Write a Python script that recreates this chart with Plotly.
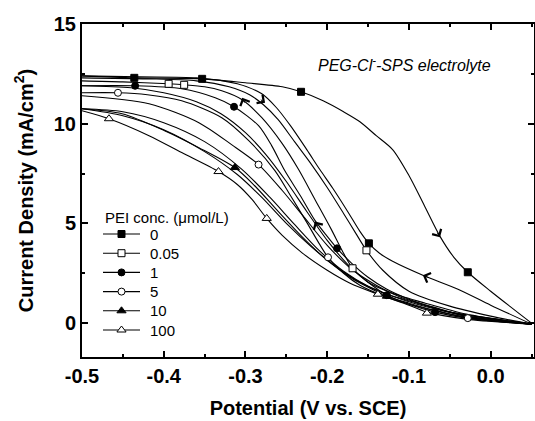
import math
import plotly.graph_objects as go

# ---------------- data ----------------
series_names = ["0", "0.05", "1", "5", "10", "100"]

# PEI 0 µmol/L
v_0_a = [-0.5, -0.436, -0.353, -0.3, -0.255, -0.232, -0.205, -0.18, -0.16, -0.14, -0.12, -0.1, -0.08, -0.062, -0.045, -0.028, 0.0, 0.05]
j_0_a = [12.4, 12.3, 12.25, 12.05, 11.85, 11.6, 11.15, 10.6, 10.1, 9.4, 8.7, 7.4, 5.8, 4.35, 3.3, 2.55, 1.6, 0.0]
v_0_b = [0.05, 0.0, -0.04, -0.083, -0.12, -0.136, -0.149, -0.16, -0.175, -0.193, -0.209, -0.225, -0.245, -0.262, -0.28, -0.31, -0.36, -0.43, -0.5]
j_0_b = [-0.05, 0.9, 1.7, 2.4, 3.1, 3.5, 4.0, 4.6, 5.6, 6.75, 7.7, 8.7, 9.9, 10.8, 11.5, 12.0, 12.3, 12.35, 12.4]
mv_0 = [-0.436, -0.353, -0.232, -0.149, -0.028]
mj_0 = [12.3, 12.25, 11.6, 4.0, 2.55]

# PEI 0.05
v_005_a = [-0.5, -0.42, -0.36, -0.32, -0.295, -0.278, -0.26, -0.24, -0.22, -0.2, -0.18, -0.165, -0.152, -0.132, -0.1, -0.05, 0.0, 0.05]
j_005_a = [12.3, 12.25, 12.15, 11.85, 11.45, 10.95, 10.2, 9.1, 8.0, 6.8, 5.5, 4.5, 3.65, 2.65, 1.6, 0.85, 0.35, -0.05]
v_005_b = [-0.5, -0.45, -0.394, -0.375, -0.35, -0.329, -0.304, -0.28, -0.255, -0.235, -0.215, -0.195, -0.18, -0.169, -0.15, -0.12, -0.08, -0.03, 0.05]
j_005_b = [12.15, 12.1, 12.0, 11.95, 11.85, 11.65, 11.2, 10.3, 9.0, 7.7, 6.2, 4.7, 3.5, 2.75, 2.05, 1.5, 1.0, 0.45, -0.05]
mv_005 = [-0.394, -0.375, -0.152, -0.169]
mj_005 = [12.0, 11.95, 3.65, 2.75]

# PEI 1
v_1_a = [-0.5, -0.435, -0.378, -0.337, -0.314, -0.284, -0.268, -0.252, -0.233, -0.215, -0.2, -0.188, -0.17, -0.15, -0.127, -0.1, -0.068, -0.03, 0.05]
j_1_a = [11.9, 11.9, 11.75, 11.3, 10.85, 9.9, 8.9, 7.65, 6.4, 5.15, 4.35, 3.75, 3.0, 2.3, 1.7, 1.2, 0.75, 0.35, -0.05]
v_1_b = [-0.5, -0.44, -0.4, -0.36, -0.33, -0.3, -0.275, -0.25, -0.225, -0.2, -0.175, -0.15, -0.127, -0.1, -0.068, -0.03, 0.05]
j_1_b = [11.9, 11.8, 11.55, 11.1, 10.5, 9.55, 8.45, 7.1, 5.6, 4.15, 2.95, 2.05, 1.4, 0.95, 0.55, 0.25, -0.05]
mv_1 = [-0.435, -0.314, -0.188, -0.127, -0.068]
mj_1 = [11.9, 10.85, 3.75, 1.4, 0.55]

# PEI 5
v_5_a = [-0.5, -0.456, -0.42, -0.378, -0.329, -0.296, -0.264, -0.245, -0.225, -0.21, -0.199, -0.18, -0.16, -0.13, -0.1, -0.06, -0.028, 0.05]
j_5_a = [11.55, 11.55, 11.45, 11.15, 10.3, 9.15, 7.65, 6.4, 5.05, 4.0, 3.3, 2.5, 1.9, 1.35, 0.95, 0.55, 0.25, -0.05]
v_5_b = [-0.5, -0.418, -0.357, -0.317, -0.284, -0.255, -0.23, -0.2, -0.17, -0.14, -0.11, -0.07, -0.03, 0.05]
j_5_b = [11.4, 11.0, 10.05, 8.95, 7.95, 6.65, 5.4, 3.9, 2.7, 1.9, 1.3, 0.8, 0.35, -0.05]
mv_5 = [-0.456, -0.284, -0.199, -0.028]
mj_5 = [11.55, 7.95, 3.3, 0.25]

# PEI 10
v_10_a = [-0.5, -0.451, -0.399, -0.357, -0.313, -0.289, -0.26, -0.23, -0.2, -0.17, -0.145, -0.127, -0.1, -0.07, -0.03, 0.05]
j_10_a = [10.75, 10.5, 9.65, 8.8, 7.8, 6.9, 5.6, 4.3, 3.15, 2.25, 1.7, 1.35, 1.0, 0.65, 0.3, -0.05]
v_10_b = [-0.5, -0.45, -0.4, -0.35, -0.304, -0.27, -0.24, -0.21, -0.18, -0.15, -0.12, -0.09, -0.05, 0.05]
j_10_b = [10.75, 10.6, 10.05, 9.1, 7.7, 6.3, 4.95, 3.65, 2.6, 1.85, 1.35, 0.95, 0.55, -0.05]
mv_10 = [-0.313, -0.127]
mj_10 = [7.8, 1.35]

# PEI 100
v_100_a = [-0.5, -0.467, -0.418, -0.378, -0.333, -0.31, -0.292, -0.274, -0.255, -0.23, -0.2, -0.172, -0.138, -0.1, -0.078, -0.03, 0.05]
j_100_a = [10.65, 10.25, 9.4, 8.55, 7.6, 6.95, 6.2, 5.25, 4.4, 3.5, 2.65, 2.0, 1.45, 0.9, 0.55, 0.2, -0.05]
v_100_b = [-0.5, -0.45, -0.4, -0.35, -0.31, -0.28, -0.25, -0.22, -0.19, -0.16, -0.13, -0.09, -0.05, 0.05]
j_100_b = [10.75, 10.4, 9.7, 8.6, 7.45, 6.3, 5.0, 3.85, 2.85, 2.05, 1.5, 1.0, 0.55, -0.05]
mv_100 = [-0.467, -0.333, -0.274, -0.138, -0.078]
mj_100 = [10.25, 7.6, 5.25, 1.45, 0.5]

# scan-direction arrows: position and direction (degrees, screen, CCW from +x)
arrow_v = [-0.304, -0.276, -0.215, -0.062, -0.083]
arrow_j = [11.3, 11.05, 5.1, 4.3, 2.4]
arrow_dir = [115, -35, 120, -60, 158]

x_tick_vals = [-0.5, -0.4, -0.3, -0.2, -0.1, 0.0]
x_tick_text = ["-0.5", "-0.4", "-0.3", "-0.2", "-0.1", "0.0"]
y_tick_vals = [0, 5, 10, 15]
y_tick_text = ["0", "5", "10", "15"]

# ---------------- figure ----------------
FONT = "Arial, Liberation Sans, Helvetica, sans-serif"
W, H = 535, 421
ML, MR, MT, MB = 82, 1, 24, 64
PW, PH = W - ML - MR, H - MT - MB

branches = [
    (v_0_a, j_0_a), (v_0_b, j_0_b), (v_005_a, j_005_a), (v_005_b, j_005_b),
    (v_1_a, j_1_a), (v_1_b, j_1_b), (v_5_a, j_5_a), (v_5_b, j_5_b),
    (v_10_a, j_10_a), (v_10_b, j_10_b), (v_100_a, j_100_a), (v_100_b, j_100_b),
]
markers = [(mv_0, mj_0), (mv_005, mj_005), (mv_1, mj_1), (mv_5, mj_5), (mv_10, mj_10), (mv_100, mj_100)]
styles = [
    ("square", "black", 7), ("square", "white", 7), ("circle", "black", 7),
    ("circle", "white", 7), ("triangle-up", "black", 8), ("triangle-up", "white", 8),
]
LW = 1.1

fig = go.Figure()
for vx, jy in branches:
    fig.add_trace(go.Scatter(x=vx, y=jy, mode="lines",
                             line=dict(color="black", width=LW, shape="spline", smoothing=0.8),
                             showlegend=False, hoverinfo="skip"))
for (mvx, mjy), (sym, fill, sz) in zip(markers, styles):
    fig.add_trace(go.Scatter(x=mvx, y=mjy, mode="markers", showlegend=False, hoverinfo="skip",
                             marker=dict(symbol=sym, color=fill, size=sz, line=dict(color="black", width=1))))

# legend key, drawn on an invisible overlay axis measured in plot-area pixels
LEG_X0, LEG_X1, LEG_TXT = 21, 58, 66
LEG_TITLE_Y = 140
LEG_ROW0, LEG_STEP = 123, 19.2
for i, (name, (sym, fill, sz)) in enumerate(zip(series_names, styles)):
    yy = LEG_ROW0 - i * LEG_STEP
    fig.add_trace(go.Scatter(x=[LEG_X0, (LEG_X0 + LEG_X1) / 2, LEG_X1], y=[yy, yy, yy],
                             xaxis="x2", yaxis="y2", mode="lines", showlegend=False, hoverinfo="skip",
                             line=dict(color="black", width=LW)))
    fig.add_trace(go.Scatter(x=[(LEG_X0 + LEG_X1) / 2], y=[yy], xaxis="x2", yaxis="y2", mode="markers",
                             name=name, showlegend=False, hoverinfo="skip",
                             marker=dict(symbol=sym, color=fill, size=sz, line=dict(color="black", width=1))))
    fig.add_annotation(x=LEG_TXT, y=yy, xref="x2", yref="y2", text=name, showarrow=False,
                       xanchor="left", yanchor="middle", font=dict(family=FONT, size=15, color="black"))
fig.add_annotation(x=LEG_X0, y=LEG_TITLE_Y, xref="x2", yref="y2", text="PEI conc. (\u03bcmol/L)",
                   showarrow=False, xanchor="left", yanchor="middle",
                   font=dict(family=FONT, size=15, color="black"))

for av, aj, ad in zip(arrow_v, arrow_j, arrow_dir):
    L = 7
    fig.add_annotation(x=av, y=aj, xref="x", yref="y", text="", showarrow=True,
                       ax=-L * math.cos(math.radians(ad)), ay=L * math.sin(math.radians(ad)),
                       arrowhead=4, arrowsize=2, arrowwidth=1, arrowcolor="black")

fig.add_annotation(x=-0.105, y=13.0, xref="x", yref="y", showarrow=False,
                   text="<i>PEG-Cl<sup>-</sup>-SPS electrolyte</i>",
                   font=dict(family=FONT, size=16, color="black"))

axis_common = dict(showline=True, linewidth=2, linecolor="black", mirror="ticks", ticks="inside",
                   ticklen=6, tickwidth=2, tickcolor="black", showgrid=False, zeroline=False,
                   automargin=False,
                   tickfont=dict(family=FONT, size=20, color="black", weight="bold"))

xaxis = dict(range=[-0.5, 0.053], tickmode="array", tickvals=x_tick_vals, ticktext=x_tick_text,
             minor=dict(dtick=0.05, tick0=0, ticks="inside", ticklen=3, tickwidth=2, tickcolor="black"),
             title=dict(text="Potential (V vs. SCE)",
                        font=dict(family=FONT, size=20, color="black", weight="bold")),
             **axis_common)
yaxis = dict(range=[-1.7, 15], tickmode="array", tickvals=y_tick_vals, ticktext=y_tick_text,
             minor=dict(dtick=2.5, tick0=0, ticks="inside", ticklen=3, tickwidth=2, tickcolor="black"),
             title=dict(text="Current Density (mA/cm<sup>2</sup>)",
                        font=dict(family=FONT, size=20, color="black", weight="bold")),
             **axis_common)

fig.update_layout(
    width=W, height=H,
    margin=dict(l=ML, r=MR, t=MT, b=MB),
    plot_bgcolor="white", paper_bgcolor="white",
    font=dict(family=FONT, color="black"),
    showlegend=False,
    xaxis=xaxis, yaxis=yaxis,
    xaxis2=dict(overlaying="x", anchor="y2", range=[0, PW], visible=False, fixedrange=True),
    yaxis2=dict(overlaying="y", anchor="x2", range=[0, PH], visible=False, fixedrange=True),
)

fig.write_html("out.html", config={"displayModeBar": False},
               post_script="document.body.style.margin='0';document.body.style.padding='0';")
